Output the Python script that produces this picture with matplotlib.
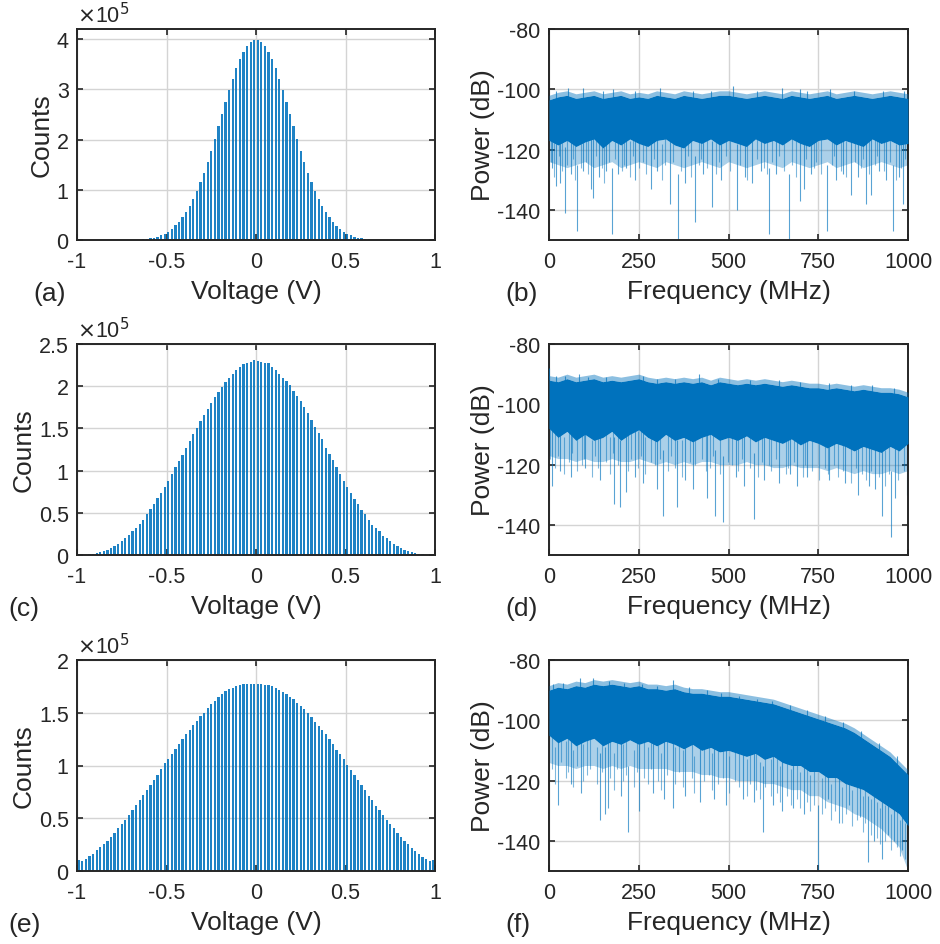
import numpy as np
import matplotlib
matplotlib.use('Agg')
import matplotlib.pyplot as plt

plt.rcParams['font.family'] = ['Liberation Sans', 'DejaVu Sans']
plt.rcParams['axes.unicode_minus'] = False

# ---------------- histogram data (counts in units of 1e5) ----------------
bin_centers = np.round(np.arange(-0.99, 1.0, 0.02), 2)

counts_a = [0, 0, 0, 0, 0, 0, 0, 0, 0, 0, 0, 0, 0, 0, 0,
            0.002, 0.004, 0.007, 0.012, 0.02, 0.03, 0.046, 0.066, 0.09, 0.12,
            0.16, 0.21, 0.29, 0.36, 0.45, 0.55, 0.68, 0.82, 0.97, 1.15,
            1.34, 1.55, 1.78, 2.01, 2.26, 2.50, 2.75, 2.99, 3.21, 3.42,
            3.60, 3.75, 3.87, 3.95, 3.98,
            3.99, 3.95, 3.87, 3.75, 3.60, 3.42, 3.21, 2.99, 2.75, 2.50,
            2.26, 2.01, 1.78, 1.55, 1.34, 1.15, 0.97, 0.82, 0.68, 0.55,
            0.45, 0.36, 0.28, 0.21, 0.16, 0.12, 0.09, 0.065, 0.045, 0.03,
            0.02, 0.012, 0.007, 0.004, 0.002,
            0, 0, 0, 0, 0, 0, 0, 0, 0, 0, 0, 0, 0, 0, 0]

counts_c = [0, 0, 0,
            0.01, 0.015, 0.024, 0.035, 0.05, 0.065, 0.085, 0.11, 0.135, 0.165,
            0.20, 0.235, 0.28, 0.32, 0.37, 0.42, 0.48, 0.54, 0.60, 0.67,
            0.74, 0.81, 0.88, 0.96, 1.04, 1.11, 1.19, 1.27, 1.35, 1.43,
            1.51, 1.59, 1.66, 1.73, 1.80, 1.87, 1.93, 1.99, 2.05, 2.10,
            2.15, 2.19, 2.23, 2.26, 2.28, 2.29, 2.31,
            2.30, 2.29, 2.28, 2.27, 2.23, 2.19, 2.15, 2.10, 2.06, 2.01,
            1.94, 1.88, 1.82, 1.75, 1.68, 1.60, 1.52, 1.44, 1.37, 1.27,
            1.20, 1.12, 1.04, 0.96, 0.88, 0.80, 0.74, 0.66, 0.60, 0.53,
            0.48, 0.42, 0.36, 0.32, 0.28, 0.23, 0.20, 0.16, 0.13, 0.11,
            0.083, 0.063, 0.048, 0.032, 0.02, 0.012, 0.008, 0, 0, 0]

counts_e = [0.107, 0.094, 0.113, 0.142, 0.164, 0.195, 0.226, 0.258, 0.289, 0.327,
            0.362, 0.406, 0.447, 0.487, 0.535, 0.579, 0.626, 0.673, 0.720, 0.770,
            0.814, 0.862, 0.912, 0.965, 1.019, 1.060, 1.107, 1.154, 1.201, 1.248,
            1.296, 1.336, 1.380, 1.421, 1.465, 1.500, 1.541, 1.579, 1.616, 1.651,
            1.679, 1.704, 1.726, 1.736, 1.752, 1.764, 1.770, 1.770, 1.774, 1.774,
            1.774, 1.770, 1.767, 1.761, 1.755, 1.736, 1.714, 1.692, 1.673, 1.651,
            1.626, 1.594, 1.563, 1.531, 1.494, 1.456, 1.415, 1.374, 1.333, 1.296,
            1.252, 1.201, 1.151, 1.107, 1.057, 1.003, 0.956, 0.909, 0.862, 0.814,
            0.764, 0.714, 0.670, 0.619, 0.579, 0.535, 0.487, 0.443, 0.403, 0.362,
            0.324, 0.289, 0.255, 0.220, 0.189, 0.160, 0.135, 0.113, 0.091, 0.107]

# ---------------- spectrum data (dB), envelopes at 25 MHz knots ----------------
freq_knots = np.arange(0, 1001, 25)

# (b)
top_b = [-103.5, -102.5, -102, -103, -102.5, -102, -103, -102.5, -102, -103, -102.5,
         -103, -102, -102.5, -103, -102, -102.5, -103, -102.5, -102, -102, -102.5,
         -103, -102.5, -102, -102.5, -103, -102, -102.5, -103, -102.5, -102, -103,
         -102.5, -102, -102.5, -103, -102.5, -102, -102.5, -103]
core_b = [-117, -118.5, -117, -119, -117.5, -116.5, -119.5, -117, -118.5, -116.5, -118,
          -119, -117, -116.5, -118.5, -119.5, -117, -118, -116.5, -118.5, -117, -118,
          -119, -116.5, -118, -117, -118.5, -116.5, -118, -119, -117, -116.5, -118.5,
          -117, -118, -119, -116.5, -118, -117, -118.5, -118]
fringe_b = [-124, -125, -126, -125, -124, -126, -125, -124, -126, -125, -124,
            -125, -126, -124, -125, -126, -125, -124, -125, -126, -124, -125,
            -126, -125, -124, -125, -126, -124, -125, -126, -125, -124, -126,
            -125, -124, -126, -125, -124, -125, -126, -125]
mid_b_f = [5, 14, 27, 37, 50, 66, 72, 88, 103, 110, 131, 147, 153, 168, 185, 202, 209,
           226, 233, 251, 262, 271, 292, 315, 322, 345, 367, 388, 395, 417, 423, 441,
           466, 473, 492, 505, 531, 552, 578, 598, 607, 622, 641, 655, 677, 688, 716,
           738, 745, 758, 788, 795, 812, 828, 851, 869, 876, 891, 907, 913, 933, 951,
           966, 981, 993]
mid_b_d = [-124, -129, -122, -127, -125, -123, -130, -126, -124, -128,
           -122, -126, -131, -124, -123, -127, -125, -129, -122, -126,
           -124, -128, -123, -130, -125, -124, -127, -122, -129, -125,
           -123, -126, -128, -124, -122, -127, -125, -130, -123, -126,
           -128, -124, -122, -127, -125, -129, -123, -126, -124, -128,
           -125, -122, -127, -129, -124, -126, -123, -128, -125, -122,
           -127, -124, -130, -126, -123]
down_b_f = [8, 19, 31, 44, 60, 78, 95, 117, 122, 140, 160, 175, 193, 215, 240, 284, 300,
            336, 359, 380, 408, 430, 455, 480, 523, 545, 566, 590, 614, 633, 669, 699,
            709, 730, 773, 800, 820, 842, 860, 883, 898, 920, 940, 958, 975, 986]
down_b_d = [-126, -132, -131, -141, -128, -147, -127, -133, -136, -129, -127, -148, -128,
            -126, -130, -133, -127, -138, -150, -131, -144, -128, -139, -130, -140, -129,
            -131, -127, -148, -128, -150, -137, -133, -128, -147, -130, -128, -135, -129,
            -138, -135, -127, -130, -147, -129, -138]
up_b_f = [20, 52, 96, 150, 179, 240, 309, 400, 450, 513, 580, 650, 700, 720, 782, 850, 930, 990]
up_b_t = [-100.5, -99.5, -99.5, -100.5, -100, -100.5, -99.5, -100.5, -100.5, -99,
          -100.5, -99.5, -100, -100.5, -100, -100.5, -100.5, -100.5]

# (d)
top_d = [-92, -92.5, -91.5, -92.5, -92, -91.5, -92.5, -92, -92.5, -92, -91.5,
         -92.5, -93, -92.5, -93, -92.5, -93, -92.5, -93.5, -92.5, -93, -93.5,
         -93, -93.5, -93, -93.5, -94, -93.5, -94, -94.5, -94.5, -95, -94.5,
         -95, -95.5, -95, -95.5, -96, -96, -96.5, -97.5]
core_d = [-108, -111, -109, -112, -110, -112, -111, -109, -112, -110, -108.5,
          -111, -112.5, -110, -112, -111, -112.5, -111, -110, -112, -111, -112,
          -110.5, -112.5, -111, -112, -113, -111.5, -113.5, -112, -113, -114.5, -113,
          -114, -115.5, -114, -115, -116, -114, -115.5, -113]
fringe_d = [-117, -118, -118, -119, -118, -119, -119, -118, -119, -119, -118,
            -119, -120, -119, -120, -119, -120, -119, -119, -120, -120, -120,
            -119, -120, -120, -121, -121, -120, -121, -121, -121, -122, -121,
            -122, -123, -122, -123, -123, -122, -123, -122]
mid_d_f = [3, 18, 24, 41, 55, 63, 79, 92, 98, 121, 127, 136, 158, 171, 178, 193, 221,
           229, 247, 256, 268, 283, 296, 309, 331, 339, 352, 371, 393, 408, 427, 436,
           448, 458, 477, 498, 511, 526, 537, 561, 583, 593, 612, 618, 633, 659, 666,
           683, 707, 712, 733, 752, 768, 776, 793, 806, 818, 841, 856, 873, 884, 898,
           918, 937, 947, 972, 988]
mid_d_d = [-118, -121, -117, -123, -119, -116, -122, -120, -118, -124,
           -117, -121, -119, -123, -116, -120, -122, -118, -121, -117,
           -123, -119, -120, -118, -122, -117, -121, -124, -119, -120,
           -118, -122, -121, -117, -123, -119, -120, -122, -118, -121,
           -124, -119, -120, -122, -118, -123, -121, -119, -124, -120,
           -122, -125, -121, -123, -120, -124, -122, -126, -121, -123,
           -125, -122, -124, -127, -123, -125, -122]
down_d_f = [8, 30, 60, 100, 143, 182, 199, 214, 240, 262, 300, 317, 357, 380, 400, 440,
            463, 486, 520, 542, 570, 600, 640, 670, 691, 720, 780, 825, 862, 890, 909,
            928, 954, 965, 997]
down_d_d = [-127, -122, -124, -121, -125, -133, -134, -129, -124, -126, -128, -137, -134,
            -125, -128, -131, -137, -139, -124, -127, -138, -125, -126, -123, -127, -124,
            -125, -126, -130, -127, -128, -137, -144, -131, -130]
up_d_f = [0, 20, 45, 83, 110, 160, 262, 300, 350, 417, 470, 560, 640, 700, 780, 840, 900, 960]
up_d_t = [-88, -90.5, -90.5, -90, -91, -91, -90.5, -91.5, -91.5, -90, -91.5, -92, -92,
          -92.5, -93, -93.5, -93.5, -94.5]

# (f)
top_f = [-90, -89, -89.5, -88.5, -89, -88, -88.5, -88, -88.5, -89, -88.5,
         -89.5, -89.5, -90, -89.5, -90.5, -91, -91, -91.5, -92, -92,
         -92.5, -93, -93.5, -94, -94.5, -95.5, -96.5, -97.5, -98.5, -99.5,
         -100.5, -101.5, -102.5, -104, -106, -108, -110, -112, -115, -118]
core_f = [-105, -107.5, -106, -108.5, -107, -106, -108.5, -107, -108, -106.5, -108,
          -107, -108.5, -107, -108, -109.5, -108, -110, -109, -110.5, -110,
          -111, -112, -111, -113, -112, -114, -115, -115, -117, -117,
          -119, -119, -121, -122, -123, -125, -127, -129, -131, -135]
fringe_f = [-114, -115, -115, -116, -115, -115, -116, -115, -116, -115, -116,
            -116, -116, -116, -117, -117, -117, -118, -118, -119, -119,
            -120, -120, -120, -121, -121, -122, -123, -123, -125, -125,
            -127, -128, -129, -131, -132, -134, -136, -139, -142, -150]
mid_f_f = [7, 16, 33, 46, 53, 68, 77, 95, 107, 115, 133, 149, 171, 182, 190, 206, 215,
           238, 244, 264, 277, 285, 305, 313, 328, 352, 361, 373, 398, 405, 431, 447,
           453, 470, 486, 502, 517, 528, 551, 559, 576, 588, 603, 617, 636, 644, 662,
           673, 690, 698, 718, 727, 739, 761, 768, 786, 797, 815, 826, 845, 857, 874,
           881, 897, 915, 921, 937, 952, 969, 977, 992]
mid_f_d = [-116, -121, -114, -119, -117, -122, -115, -120, -118, -116,
           -121, -117, -119, -123, -116, -120, -118, -122, -117, -119,
           -121, -116, -120, -123, -118, -121, -117, -122, -119, -124,
           -120, -118, -123, -121, -119, -124, -120, -122, -125, -121,
           -123, -126, -122, -125, -124, -127, -125, -128, -126, -129,
           -127, -130, -128, -131, -129, -133, -130, -134, -131, -135,
           -133, -137, -134, -138, -139, -141, -140, -143, -142, -145, -146]
down_f_f = [25, 60, 90, 142, 156, 163, 200, 221, 251, 290, 320, 345, 380, 420, 460, 493,
            540, 570, 595, 625, 650, 680, 710, 750, 776, 808, 836, 866, 889, 906, 928,
            945, 961, 984, 1000]
down_f_d = [-128, -121, -124, -133, -131, -129, -125, -137, -130, -124, -126, -129, -125,
            -127, -126, -128, -126, -127, -137, -128, -130, -129, -131, -150, -126, -134,
            -128, -132, -147, -140, -146, -138, -140, -143, -150]
up_f_f = [10, 40, 86, 123, 168, 210, 260, 300, 345, 390, 440, 480, 530, 580, 620, 670,
          720, 770, 820, 870, 920, 970]
up_f_t = [-88, -87.5, -86, -86, -87, -87.5, -88, -88.5, -86.5, -89, -90, -91, -92, -93,
          -93.5, -95, -96.5, -98.5, -100.5, -103.5, -107.5, -112]

panel_labels = ['(a)', '(b)', '(c)', '(d)', '(e)', '(f)']

# ---------------- style ----------------
BLUE = '#0072BD'
AXC = '#262626'
W, H = 940, 945

fig = plt.figure(figsize=(W / 100, H / 100), dpi=100)

col_x = [77, 549]
col_w = [358, 359]
row_top = [30, 345, 661]
ax_h = 211


def make_ax(r, c):
    l = col_x[c] / W
    b = 1 - (row_top[r] + ax_h) / H
    ax = fig.add_axes([l, b, col_w[c] / W, ax_h / H])
    for s in ax.spines.values():
        s.set_color(AXC)
        s.set_linewidth(1.4)
    ax.tick_params(direction='in', top=True, right=True, length=4, width=1.2,
                   color=AXC, labelsize=15.5, labelcolor=AXC)
    ax.tick_params(axis='x', pad=8)
    ax.tick_params(axis='y', pad=6)
    ax.grid(True, color='#d4d4d4', linewidth=1.0)
    ax.set_axisbelow(True)
    return ax


def hist_panel(r, counts, ymax, yticks, ylabels):
    ax = make_ax(r, 0)
    ax.bar(bin_centers, counts, width=0.0125, color=BLUE, alpha=0.88, linewidth=0)
    ax.set_xlim(-1, 1)
    ax.set_ylim(0, ymax)
    ax.set_xticks([-1, -0.5, 0, 0.5, 1])
    ax.set_xticklabels(['-1', '-0.5', '0', '0.5', '1'])
    ax.set_yticks(yticks)
    ax.set_yticklabels(ylabels)
    ax.set_xlabel('Voltage (V)', fontsize=19, color=AXC, labelpad=5)
    ax.set_ylabel('Counts', fontsize=19, color=AXC, labelpad=2)
    ax.text(0.0, 1.01, r'$\times$10$^5$', transform=ax.transAxes, fontsize=15.5,
            color=AXC, ha='left', va='bottom')
    return ax


def spec_panel(r, top, core, fringe, mid_f, mid_d, dn_f, dn_d, up_f, up_t):
    ax = make_ax(r, 1)
    top = np.asarray(top, float)
    mid_d = np.asarray(mid_d, float)
    dn_d = np.asarray(dn_d, float)
    up_t = np.asarray(up_t, float)
    ax.fill_between(freq_knots, fringe, core, color=BLUE, alpha=0.33, linewidth=0, zorder=2)
    ax.vlines(mid_f, mid_d, mid_d + 12, color=BLUE, linewidth=0.8, alpha=0.5, zorder=2.4)
    ax.vlines(dn_f, dn_d, dn_d + 22, color=BLUE, linewidth=0.8, alpha=0.65, zorder=2.5)
    ax.fill_between(freq_knots, core, top, color=BLUE, linewidth=0, zorder=3)
    ax.fill_between(freq_knots, top, top + 1.5, color=BLUE, alpha=0.45, linewidth=0, zorder=3)
    ax.vlines(up_f, up_t - 4, up_t, color=BLUE, linewidth=0.8, alpha=0.7, zorder=3)
    ax.set_xlim(0, 1000)
    ax.set_ylim(-150, -80)
    ax.set_xticks([0, 250, 500, 750, 1000])
    ax.set_xticklabels(['0', '250', '500', '750', '1000'])
    ax.set_yticks([-140, -120, -100, -80])
    ax.set_yticklabels(['-140', '-120', '-100', '-80'])
    ax.set_xlabel('Frequency (MHz)', fontsize=19, color=AXC, labelpad=5)
    ax.set_ylabel('Power (dB)', fontsize=19, color=AXC, labelpad=2)
    return ax


hist_panel(0, counts_a, 4.2, [0, 1, 2, 3, 4], ['0', '1', '2', '3', '4'])
hist_panel(1, counts_c, 2.5, [0, 0.5, 1, 1.5, 2, 2.5], ['0', '0.5', '1', '1.5', '2', '2.5'])
hist_panel(2, counts_e, 2.0, [0, 0.5, 1, 1.5, 2], ['0', '0.5', '1', '1.5', '2'])

spec_panel(0, top_b, core_b, fringe_b, mid_b_f, mid_b_d, down_b_f, down_b_d, up_b_f, up_b_t)
spec_panel(1, top_d, core_d, fringe_d, mid_d_f, mid_d_d, down_d_f, down_d_d, up_d_f, up_d_t)
spec_panel(2, top_f, core_f, fringe_f, mid_f_f, mid_f_d, down_f_f, down_f_d, up_f_f, up_f_t)

label_x = [[33, 505], [8, 505], [8, 505]]
for r in range(3):
    yc = row_top[r] + ax_h + 53
    for c in range(2):
        fig.text(label_x[r][c] / W, 1 - yc / H, panel_labels[2 * r + c], fontsize=19,
                 color=AXC, ha='left', va='center')

fig.savefig('out.png', dpi=100, facecolor='white')
